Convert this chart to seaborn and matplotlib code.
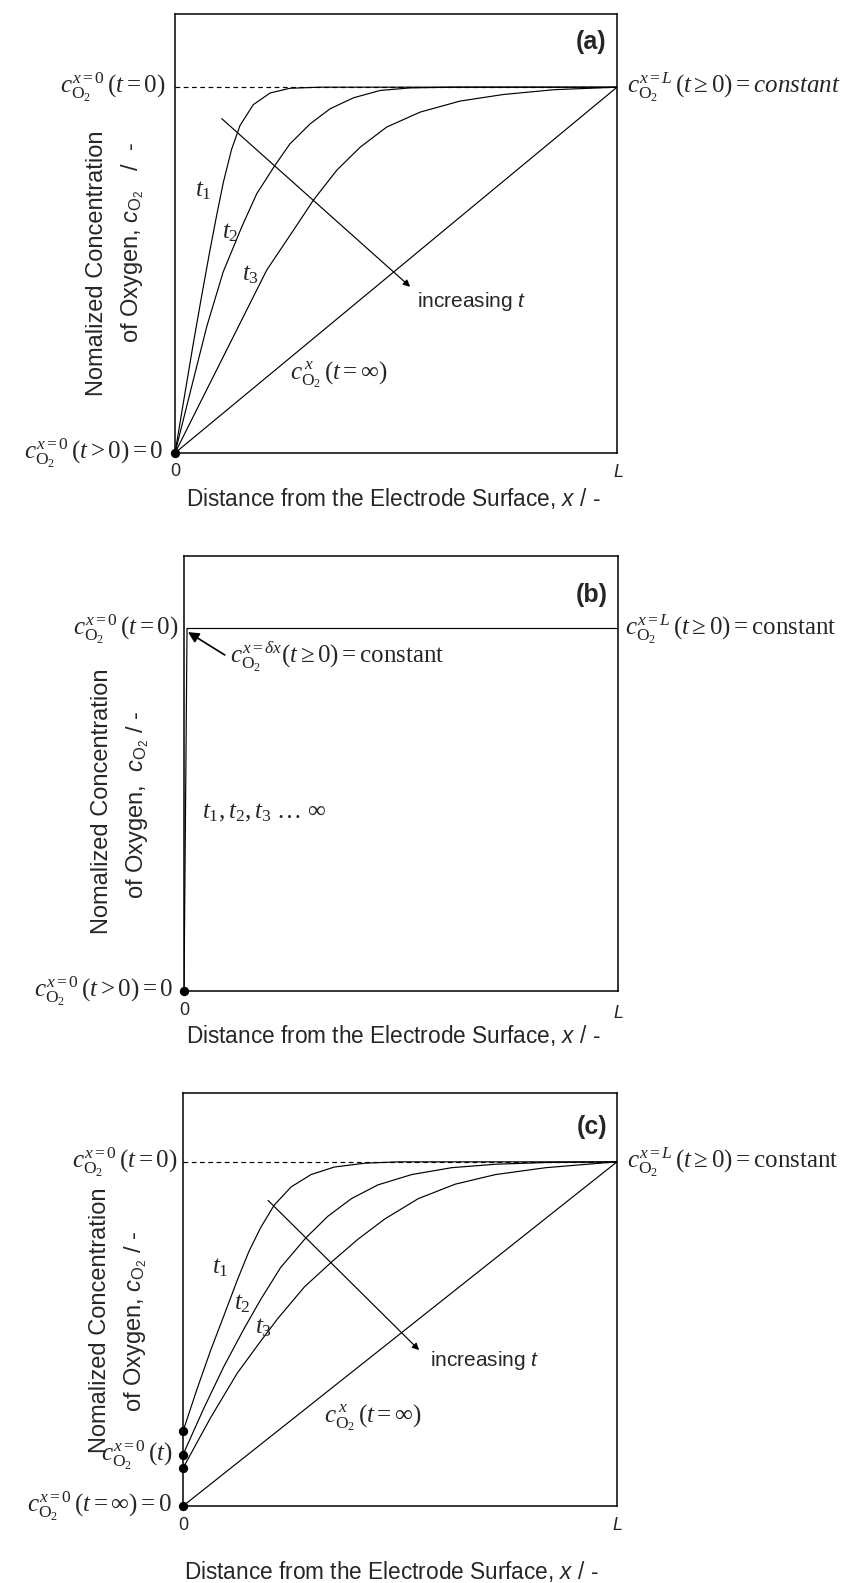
import numpy as np
import pandas as pd
import matplotlib
matplotlib.use("Agg")
import matplotlib.pyplot as plt
import seaborn as sns

# ---------------- data (x in units of L, y normalised) -------------
# Panel (a)
a_t1_x = [0, 0.0226, 0.0415, 0.0604, 0.0792, 0.0943, 0.1094, 0.128, 0.147, 0.177, 0.215, 0.26, 0.328, 1.0]
a_t1_y = [0, 0.164, 0.30, 0.43, 0.555, 0.65, 0.74, 0.83, 0.895, 0.952, 0.984, 0.997, 1.0, 1.0]
a_t2_x = [0, 0.034, 0.0717, 0.109, 0.151, 0.185, 0.226, 0.26, 0.306, 0.351, 0.404, 0.464, 0.532, 0.63, 1.0]
a_t2_y = [0, 0.164, 0.345, 0.495, 0.618, 0.709, 0.786, 0.845, 0.90, 0.941, 0.971, 0.991, 0.998, 1.0, 1.0]
a_t3_x = [0, 0.068, 0.132, 0.2075, 0.268, 0.313, 0.366, 0.419, 0.479, 0.555, 0.645, 0.743, 0.857, 1.0]
a_t3_y = [0, 0.164, 0.318, 0.50, 0.609, 0.691, 0.773, 0.836, 0.891, 0.932, 0.962, 0.98, 0.993, 1.0]
a_inf_x = [0, 1.0]
a_inf_y = [0, 1.0]
a_dots_y = [0.0]

# Panel (b)
b_curve_x = [0, 0.007, 1.0]
b_curve_y = [0, 1.0, 1.0]
b_dots_y = [0.0]

# Panel (c)
c_t1_x = [0, 0.0324, 0.0633, 0.0942, 0.125, 0.152, 0.179, 0.21, 0.249, 0.295, 0.349, 0.419, 0.496, 1.0]
c_t1_y = [0.217, 0.340, 0.451, 0.553, 0.656, 0.740, 0.809, 0.874, 0.927, 0.963, 0.985, 0.996, 1.0, 1.0]
c_t2_x = [0, 0.048, 0.094, 0.141, 0.179, 0.225, 0.283, 0.334, 0.388, 0.449, 0.527, 0.619, 0.72, 0.836, 1.0]
c_t2_y = [0.149, 0.284, 0.405, 0.516, 0.60, 0.693, 0.779, 0.842, 0.893, 0.933, 0.963, 0.983, 0.993, 0.998, 1.0]
c_t3_x = [0, 0.0633, 0.125, 0.179, 0.218, 0.28, 0.345, 0.403, 0.465, 0.542, 0.627, 0.72, 0.836, 0.951, 1.0]
c_t3_y = [0.11, 0.256, 0.386, 0.479, 0.544, 0.637, 0.712, 0.775, 0.834, 0.893, 0.935, 0.963, 0.983, 0.995, 1.0]
c_inf_x = [0, 1.0]
c_inf_y = [0, 1.0]
c_dots_y = [0.217, 0.149, 0.11, 0.0]

x_tick_values = [0, 1]
x_tick_labels = ["0", r"$\mathsf{L}$"]
level_y = 1.0

# ---------------- style ----------------
sns.set_theme(style="white")
plt.rcParams['font.family'] = ['Liberation Sans', 'DejaVu Sans']
plt.rcParams['mathtext.fontset'] = 'custom'
plt.rcParams['mathtext.rm'] = 'Liberation Serif'
plt.rcParams['mathtext.it'] = 'Liberation Serif:italic'
plt.rcParams['mathtext.bf'] = 'Liberation Sans'
plt.rcParams['mathtext.sf'] = 'Liberation Sans:italic'
plt.rcParams['mathtext.fallback'] = 'stix'

W, H = 859, 1583
fig = plt.figure(figsize=(W / 100, H / 100), dpi=100)
fig.patch.set_facecolor('white')


def px_rect(l, t, r, b):
    return [l / W, 1 - b / H, (r - l) / W, (b - t) / H]


def ftext(px, py, s, **kw):
    fig.text(px / W, 1 - py / H, s, **kw)


MATH = 18
LW = 0.85


def setup(ax):
    ax.set_xlim(0, 1)
    ax.set_ylim(0, 1.2)
    ax.set_xticks([])
    ax.set_yticks([])
    ax.set_xlabel("")
    ax.set_ylabel("")
    for s in ax.spines.values():
        s.set_color('black')
        s.set_linewidth(1.1)
        s.set_visible(True)


def draw_curves(ax, curves):
    rows = []
    for name, xs, ys in curves:
        for x, y in zip(xs, ys):
            rows.append((name, x, y))
    df = pd.DataFrame(rows, columns=['curve', 'x', 'y'])
    sns.lineplot(data=df, x='x', y='y', units='curve', estimator=None, sort=False,
                 color='black', lw=LW, ax=ax, legend=False)


def dots(ax, ys):
    sns.scatterplot(x=[0.0] * len(ys), y=ys, color='black', s=45, ax=ax,
                    clip_on=False, zorder=5, linewidth=0, legend=False)


def ticks_text(ax_left_px, ax_right_px, y0, yL):
    ftext(ax_left_px, y0, x_tick_labels[0], ha='center', va='center', fontsize=13)
    ftext(ax_right_px, yL, x_tick_labels[1], ha='center', va='center', fontsize=13)


def cO2(sup, arg, tail=""):
    return r"$c_{\mathrm{O}_2}^{" + sup + r"}\,(" + arg + r")" + tail + r"$"


EQ = r"="
GE = r"\geq "
GT = r">"

xlabel = r"Distance from the Electrode Surface, $\mathsf{x}$ / -"
ylabel1 = "Nomalized Concentration"

# ================= Panel (a) =================
ax = fig.add_axes(px_rect(175, 14, 617, 453))
setup(ax)
ax.plot([0, 1], [level_y, level_y], color='black', lw=LW, ls=(0, (4, 3)))
draw_curves(ax, [("t1", a_t1_x, a_t1_y), ("t2", a_t2_x, a_t2_y),
                 ("t3", a_t3_x, a_t3_y), ("inf", a_inf_x, a_inf_y)])
dots(ax, a_dots_y)
ax.set_xlim(0, 1); ax.set_ylim(0, 1.2); ax.set_xlabel(""); ax.set_ylabel("")
ax.annotate("", xy=(0.532, 0.4545), xytext=(0.1057, 0.914),
            arrowprops=dict(arrowstyle='-|>', lw=LW, color='black', mutation_scale=10,
                            shrinkA=0, shrinkB=0))
ax.text(0.547, 0.414, r"increasing $\mathsf{t}$", fontsize=15, ha='left', va='center')
ax.text(0.064, 0.718, r"$t_1$", fontsize=MATH, ha='center', va='center')
ax.text(0.125, 0.605, r"$t_2$", fontsize=MATH, ha='center', va='center')
ax.text(0.17, 0.49, r"$t_3$", fontsize=MATH, ha='center', va='center')
ax.text(0.26, 0.215, r"$c_{\mathrm{O}_2}^{\,x}\,(t" + EQ + r"\infty)$", fontsize=MATH, ha='left', va='center')
ax.text(0.977, 1.123, "(a)", fontsize=18, fontweight='bold', ha='right', va='center')
ftext(165, 87, cO2("x=0", "t" + EQ + "0"), fontsize=MATH, ha='right', va='center')
ftext(163, 453, cO2("x=0", "t" + GT + "0", EQ + "0"), fontsize=MATH, ha='right', va='center')
ftext(627, 87, cO2("x=L", "t" + GE + "0", EQ + r"\mathit{constant}"), fontsize=MATH, ha='left', va='center')
ticks_text(175, 618, 472, 473)
ftext(393, 499, xlabel, fontsize=16.3, ha='center', va='center')
ftext(97, 263, ylabel1, fontsize=17, rotation=90, ha='center', va='center')
ftext(133, 242, r"of Oxygen, $\mathsf{c}_{\mathbf{O}_{\mathbf{2}}}$   /  -", fontsize=17,
      rotation=90, ha='center', va='center')

# ================= Panel (b) =================
ax = fig.add_axes(px_rect(184, 556, 618, 991))
setup(ax)
draw_curves(ax, [("all", b_curve_x, b_curve_y)])
dots(ax, b_dots_y)
ax.set_xlim(0, 1); ax.set_ylim(0, 1.2); ax.set_xlabel(""); ax.set_ylabel("")
ax.annotate("", xy=(0.0092, 0.99), xytext=(0.094, 0.927),
            arrowprops=dict(arrowstyle='-|>', lw=1.2, color='black', mutation_scale=16,
                            shrinkA=0, shrinkB=0))
ax.text(0.106, 0.921, r"$c_{\mathrm{O}_2}^{x=\delta x}(t" + GE + r"0)" + EQ + r"\mathrm{constant}$",
        fontsize=MATH, ha='left', va='center')
ax.text(0.0415, 0.494, r"$t_1,t_2,t_3\ \ldots\ \infty$", fontsize=MATH, ha='left', va='center')
ax.text(0.977, 1.092, "(b)", fontsize=18, fontweight='bold', ha='right', va='center')
ftext(178, 629, cO2("x=0", "t" + EQ + "0"), fontsize=MATH, ha='right', va='center')
ftext(173, 991, cO2("x=0", "t" + GT + "0", EQ + "0"), fontsize=MATH, ha='right', va='center')
ftext(625, 629, cO2("x=L", "t" + GE + "0", EQ + r"\mathrm{constant}"), fontsize=MATH, ha='left', va='center')
ticks_text(184, 618, 1011, 1013)
ftext(393, 1035, xlabel, fontsize=16.3, ha='center', va='center')
ftext(102, 801, ylabel1, fontsize=17, rotation=90, ha='center', va='center')
ftext(138, 805, r"of Oxygen,  $\mathsf{c}_{\mathbf{O}_{\mathbf{2}}}$ / -", fontsize=17,
      rotation=90, ha='center', va='center')

# ================= Panel (c) =================
ax = fig.add_axes(px_rect(183, 1093, 617, 1506))
setup(ax)
ax.plot([0, 1], [level_y, level_y], color='black', lw=LW, ls=(0, (4, 3)))
draw_curves(ax, [("t1", c_t1_x, c_t1_y), ("t2", c_t2_x, c_t2_y),
                 ("t3", c_t3_x, c_t3_y), ("inf", c_inf_x, c_inf_y)])
dots(ax, c_dots_y)
ax.set_xlim(0, 1); ax.set_ylim(0, 1.2); ax.set_xlabel(""); ax.set_ylabel("")
ax.annotate("", xy=(0.544, 0.453), xytext=(0.196, 0.888),
            arrowprops=dict(arrowstyle='-|>', lw=LW, color='black', mutation_scale=10,
                            shrinkA=0, shrinkB=0))
ax.text(0.569, 0.423, r"increasing $\mathsf{t}$", fontsize=15, ha='left', va='center')
ax.text(0.086, 0.693, r"$t_1$", fontsize=MATH, ha='center', va='center')
ax.text(0.137, 0.591, r"$t_2$", fontsize=MATH, ha='center', va='center')
ax.text(0.185, 0.521, r"$t_3$", fontsize=MATH, ha='center', va='center')
ax.text(0.326, 0.255, r"$c_{\mathrm{O}_2}^{\,x}\,(t" + EQ + r"\infty)$", fontsize=MATH, ha='left', va='center')
ax.text(0.978, 1.102, "(c)", fontsize=18, fontweight='bold', ha='right', va='center')
ftext(177, 1162, cO2("x=0", "t" + EQ + "0"), fontsize=MATH, ha='right', va='center')
ftext(173, 1455, cO2("x=0", "t"), fontsize=MATH, ha='right', va='center')
ftext(172, 1506, cO2("x=0", "t" + EQ + r"\infty", EQ + "0"), fontsize=MATH, ha='right', va='center')
ftext(627, 1162, cO2("x=L", "t" + GE + "0", EQ + r"\mathrm{constant}"), fontsize=MATH, ha='left', va='center')
ticks_text(183, 617, 1525, 1525)
ftext(391, 1572, xlabel, fontsize=16.3, ha='center', va='center')
ftext(100, 1320, ylabel1, fontsize=17, rotation=90, ha='center', va='center')
ftext(136, 1321, r"of Oxygen, $\mathsf{c}_{\mathbf{O}_{\mathbf{2}}}$ / -", fontsize=17,
      rotation=90, ha='center', va='center')

fig.savefig("out.png", dpi=100, facecolor='white')
